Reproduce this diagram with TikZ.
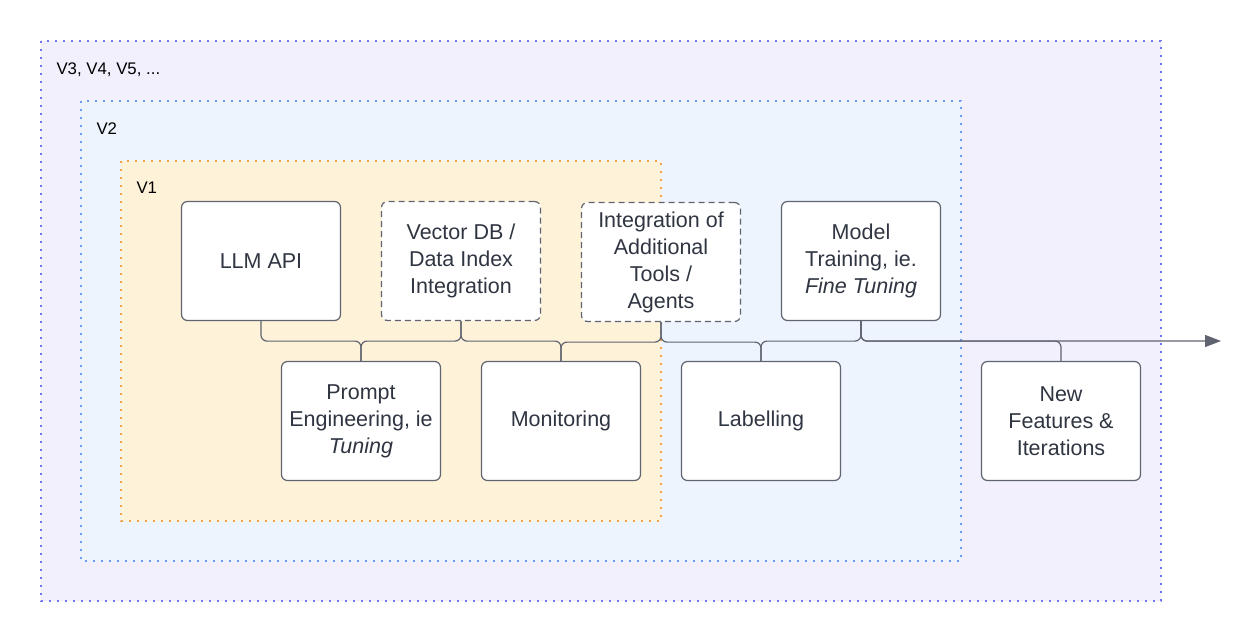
\documentclass[tikz,border=0pt]{standalone}
\usepackage{fontspec}
\setmainfont{Liberation Sans}
\usetikzlibrary{arrows.meta}
\definecolor{ink}{HTML}{2F3541}
\definecolor{edge}{HTML}{5F6470}
\definecolor{vthreefill}{HTML}{F1F0FC}
\definecolor{vthreeline}{HTML}{7474F4}
\definecolor{vtwofill}{HTML}{EDF4FE}
\definecolor{vtwoline}{HTML}{6A9CF4}
\definecolor{vonefill}{HTML}{FEF2D9}
\definecolor{voneline}{HTML}{F4A24A}

\begin{document}
\begin{tikzpicture}[x=1pt,y=-1pt,
	box/.style={draw=edge, fill=white, rounded corners=6pt, line width=1.2pt,
		minimum width=159pt, minimum height=119pt, align=center, text=ink,
		font=\fontsize{21.5}{27}\selectfont},
	dbox/.style={box, dash pattern=on 6pt off 4pt},
	link/.style={draw=edge, line width=1.2pt, rounded corners=6pt},
	frame/.style={line width=1.7pt, dash pattern=on 1.7pt off 6.3pt},
	tag/.style={anchor=west, text=black, font=\fontsize{16.8}{20}\selectfont}]
	\useasboundingbox (0,0) rectangle (1259,642);
	% nested release frames
	\draw[frame, draw=vthreeline, fill=vthreefill] (41,41) rectangle (1161,601);
	\node[tag] (v3) at (53,70) {V3, V4, V5, ...};
	\draw[frame, draw=vtwoline, fill=vtwofill] (81,101) rectangle (961,561);
	\node[tag] (v2) at (93,129) {V2};
	\draw[frame, draw=voneline, fill=vonefill] (121,161) rectangle (661,521);
	\node[tag] (v1) at (133,188) {V1};
	% top row
	\node[box] (llm) at (261,261) {LLM API};
	\node[dbox] (vdb) at (461,261) {Vector DB /\\Data Index\\Integration};
	\node[dbox] (tools) at (661,262) {Integration of\\Additional\\Tools /\\Agents};
	\node[box] (train) at (861,261) {Model\\Training, ie.\\\textit{Fine Tuning}};
	% bottom row
	\node[box] (prompt) at (361,421) {Prompt\\Engineering, ie\\\textit{Tuning}};
	\node[box] (mon) at (561,421) {Monitoring};
	\node[box] (label) at (761,421) {Labelling};
	\node[box] (feat) at (1061,421) {New\\Features \&\\Iterations};
	\coordinate (end) at (1221,341);
	% connectors
	\draw[link] (llm.south) -- ++(0,20) -| (prompt.north);
	\draw[link] (vdb.south) -- ++(0,20) -| (prompt.north);
	\draw[link] (vdb.south) -- ++(0,20) -| (mon.north);
	\draw[link] (tools.south) -- ++(0,20) -| (mon.north);
	\draw[link] (tools.south) -- ++(0,20) -| (label.north);
	\draw[link] (train.south) -- ++(0,20) -| (label.north);
	\draw[link] (train.south) -- ++(0,20) -| (feat.north);
	\draw[link, -{Triangle[length=16pt,width=12pt]}] (train.south) |- (end);
\end{tikzpicture}
\end{document}
